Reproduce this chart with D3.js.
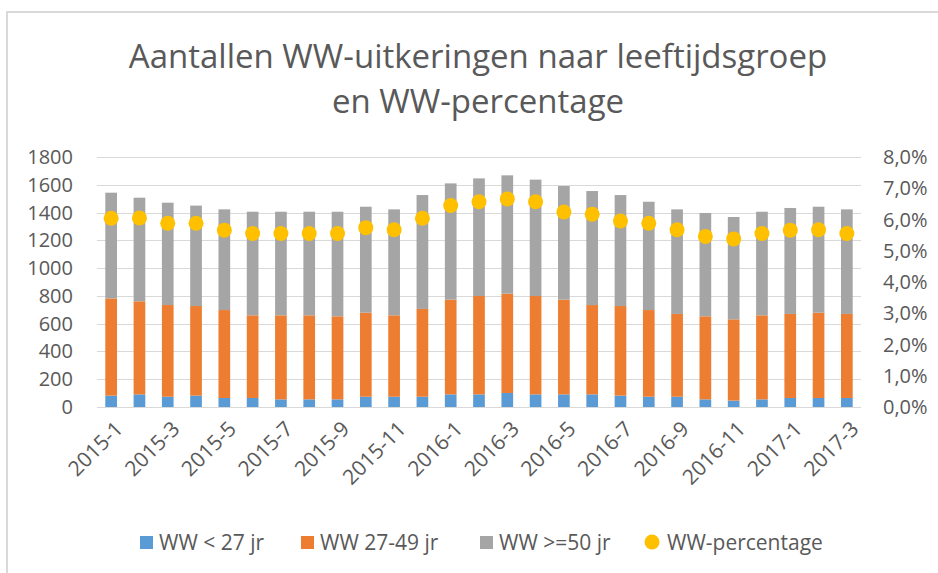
<!DOCTYPE html>
<html>
<head>
<meta charset="utf-8">
<script src="https://cdn.jsdelivr.net/npm/d3@7"></script>
<style>
  body { margin: 0; background: #fff; }
  text { font-family: "Open Sans", "Noto Sans", sans-serif; fill: #595959; }
</style>
</head>
<body>
<svg id="chart" width="938" height="573"></svg>
<script>
// maanden op de x-as
var months = ['2015-1','2015-2','2015-3','2015-4','2015-5','2015-6','2015-7','2015-8','2015-9','2015-10','2015-11','2015-12',
              '2016-1','2016-2','2016-3','2016-4','2016-5','2016-6','2016-7','2016-8','2016-9','2016-10','2016-11','2016-12',
              '2017-1','2017-2','2017-3'];

// aantallen per leeftijdsgroep
var under27 = [82, 91, 74, 82, 65, 65, 55, 55, 55, 74, 74, 74, 91, 91, 101, 91, 91, 91, 82, 74, 74, 55, 46, 55, 65, 65, 65];
var age27to49 = [700, 670, 660, 645, 633, 595, 605, 605, 598, 605, 586, 632, 682, 708, 715, 708, 682, 643, 645, 624, 596, 598, 585, 605, 605, 614, 605];
var over50 = [761, 746, 737, 723, 725, 746, 746, 746, 753, 763, 763, 820, 837, 847, 852, 838, 818, 821, 799, 780, 753, 744, 737, 746, 763, 763, 753];

// WW-percentage
var wwPct = [6.04, 6.05, 5.88, 5.88, 5.66, 5.55, 5.55, 5.55, 5.55, 5.74, 5.67, 6.04, 6.45, 6.57, 6.66, 6.57, 6.24, 6.17, 5.95, 5.88, 5.67, 5.46, 5.38, 5.55, 5.66, 5.67, 5.55];

var leftTicks = [0, 200, 400, 600, 800, 1000, 1200, 1400, 1600, 1800];
var rightTicks = [0, 1, 2, 3, 4, 5, 6, 7, 8];

var seriesNames = ['WW < 27 jr', 'WW 27-49 jr', 'WW >=50 jr'];
var seriesColors = ['#5B9BD5', '#ED7D31', '#A5A5A5'];
var pctName = 'WW-percentage';
var pctColor = '#FFC000';

var svg = d3.select('#chart');

var plot = { left: 97, right: 861, top: 157, bottom: 407 };

// rand om de grafiek
svg.append('rect')
  .attr('x', 7).attr('y', 12)
  .attr('width', 960).attr('height', 600)
  .attr('fill', 'none')
  .attr('stroke', '#d9d9d9')
  .attr('stroke-width', 2);

var x = d3.scaleBand().domain(months).range([plot.left, plot.right]).paddingInner(0.587).paddingOuter(0.2935);
var y = d3.scaleLinear().domain([0, 1800]).range([plot.bottom, plot.top]);
var y2 = d3.scaleLinear().domain([0, 8]).range([plot.bottom, plot.top]);

// rasterlijnen
svg.append('g').selectAll('line').data(leftTicks).enter().append('line')
  .attr('x1', plot.left).attr('x2', plot.right)
  .attr('y1', d => Math.round(y(d)) + 0.5).attr('y2', d => Math.round(y(d)) + 0.5)
  .attr('stroke', '#d9d9d9').attr('stroke-width', 1);

// gestapelde staven
var rows = months.map(function(m, i) {
  return { month: m, a: under27[i], b: age27to49[i], c: over50[i] };
});
var stacked = d3.stack().keys(['a', 'b', 'c'])(rows);

svg.append('g').selectAll('g').data(stacked).enter().append('g')
  .attr('fill', (d, i) => seriesColors[i])
  .selectAll('rect').data(d => d).enter().append('rect')
  .attr('x', d => x(d.data.month))
  .attr('width', x.bandwidth())
  .attr('y', d => y(d[1]))
  .attr('height', d => y(d[0]) - y(d[1]));

// percentage punten
svg.append('g').selectAll('circle').data(wwPct).enter().append('circle')
  .attr('cx', (d, i) => x(months[i]) + x.bandwidth() / 2)
  .attr('cy', d => y2(d))
  .attr('r', 7.5)
  .attr('fill', pctColor);

// linker as
svg.append('g').selectAll('text').data(leftTicks).enter().append('text')
  .attr('x', 73).attr('y', d => y(d))
  .attr('dy', '0.35em')
  .attr('text-anchor', 'end')
  .style('font-size', '20px')
  .text(d => d);

// rechter as
var pctFormat = d => d.toFixed(1).replace('.', ',') + '%';
svg.append('g').selectAll('text').data(rightTicks).enter().append('text')
  .attr('x', 883).attr('y', d => y2(d))
  .attr('dy', '0.35em')
  .style('font-size', '20px')
  .text(pctFormat);

// x-as labels, elke tweede maand
svg.append('g').selectAll('text').data(months.filter((m, i) => i % 2 === 0)).enter().append('text')
  .attr('transform', d => 'translate(' + (x(d) + x.bandwidth() / 2 + 8) + ',' + 425 + ') rotate(-45)')
  .attr('text-anchor', 'end')
  .attr('dy', '0.35em')
  .style('font-size', '21px')
  .text(d => d);

// titel
var title = svg.append('text')
  .attr('x', 478).attr('y', 67)
  .attr('text-anchor', 'middle')
  .style('font-size', '33px');
title.append('tspan').attr('x', 478).attr('y', 68).text('Aantallen WW-uitkeringen naar leeftijdsgroep');
title.append('tspan').attr('x', 478).attr('y', 113).text('en WW-percentage');

// legenda
var legendItems = seriesNames.map((n, i) => ({ name: n, color: seriesColors[i], x: 140 + [0, 161, 340][i] }));
var legend = svg.append('g');
legendItems.forEach(function(d) {
  legend.append('rect').attr('x', d.x).attr('y', 536).attr('width', 13).attr('height', 13).attr('fill', d.color);
  legend.append('text').attr('x', d.x + 19).attr('y', 550).style('font-size', '21px').text(d.name);
});
legend.append('circle').attr('cx', 652).attr('cy', 542).attr('r', 7.5).attr('fill', pctColor);
legend.append('text').attr('x', 667).attr('y', 550).style('font-size', '21px').text(pctName);
</script>
</body>
</html>
